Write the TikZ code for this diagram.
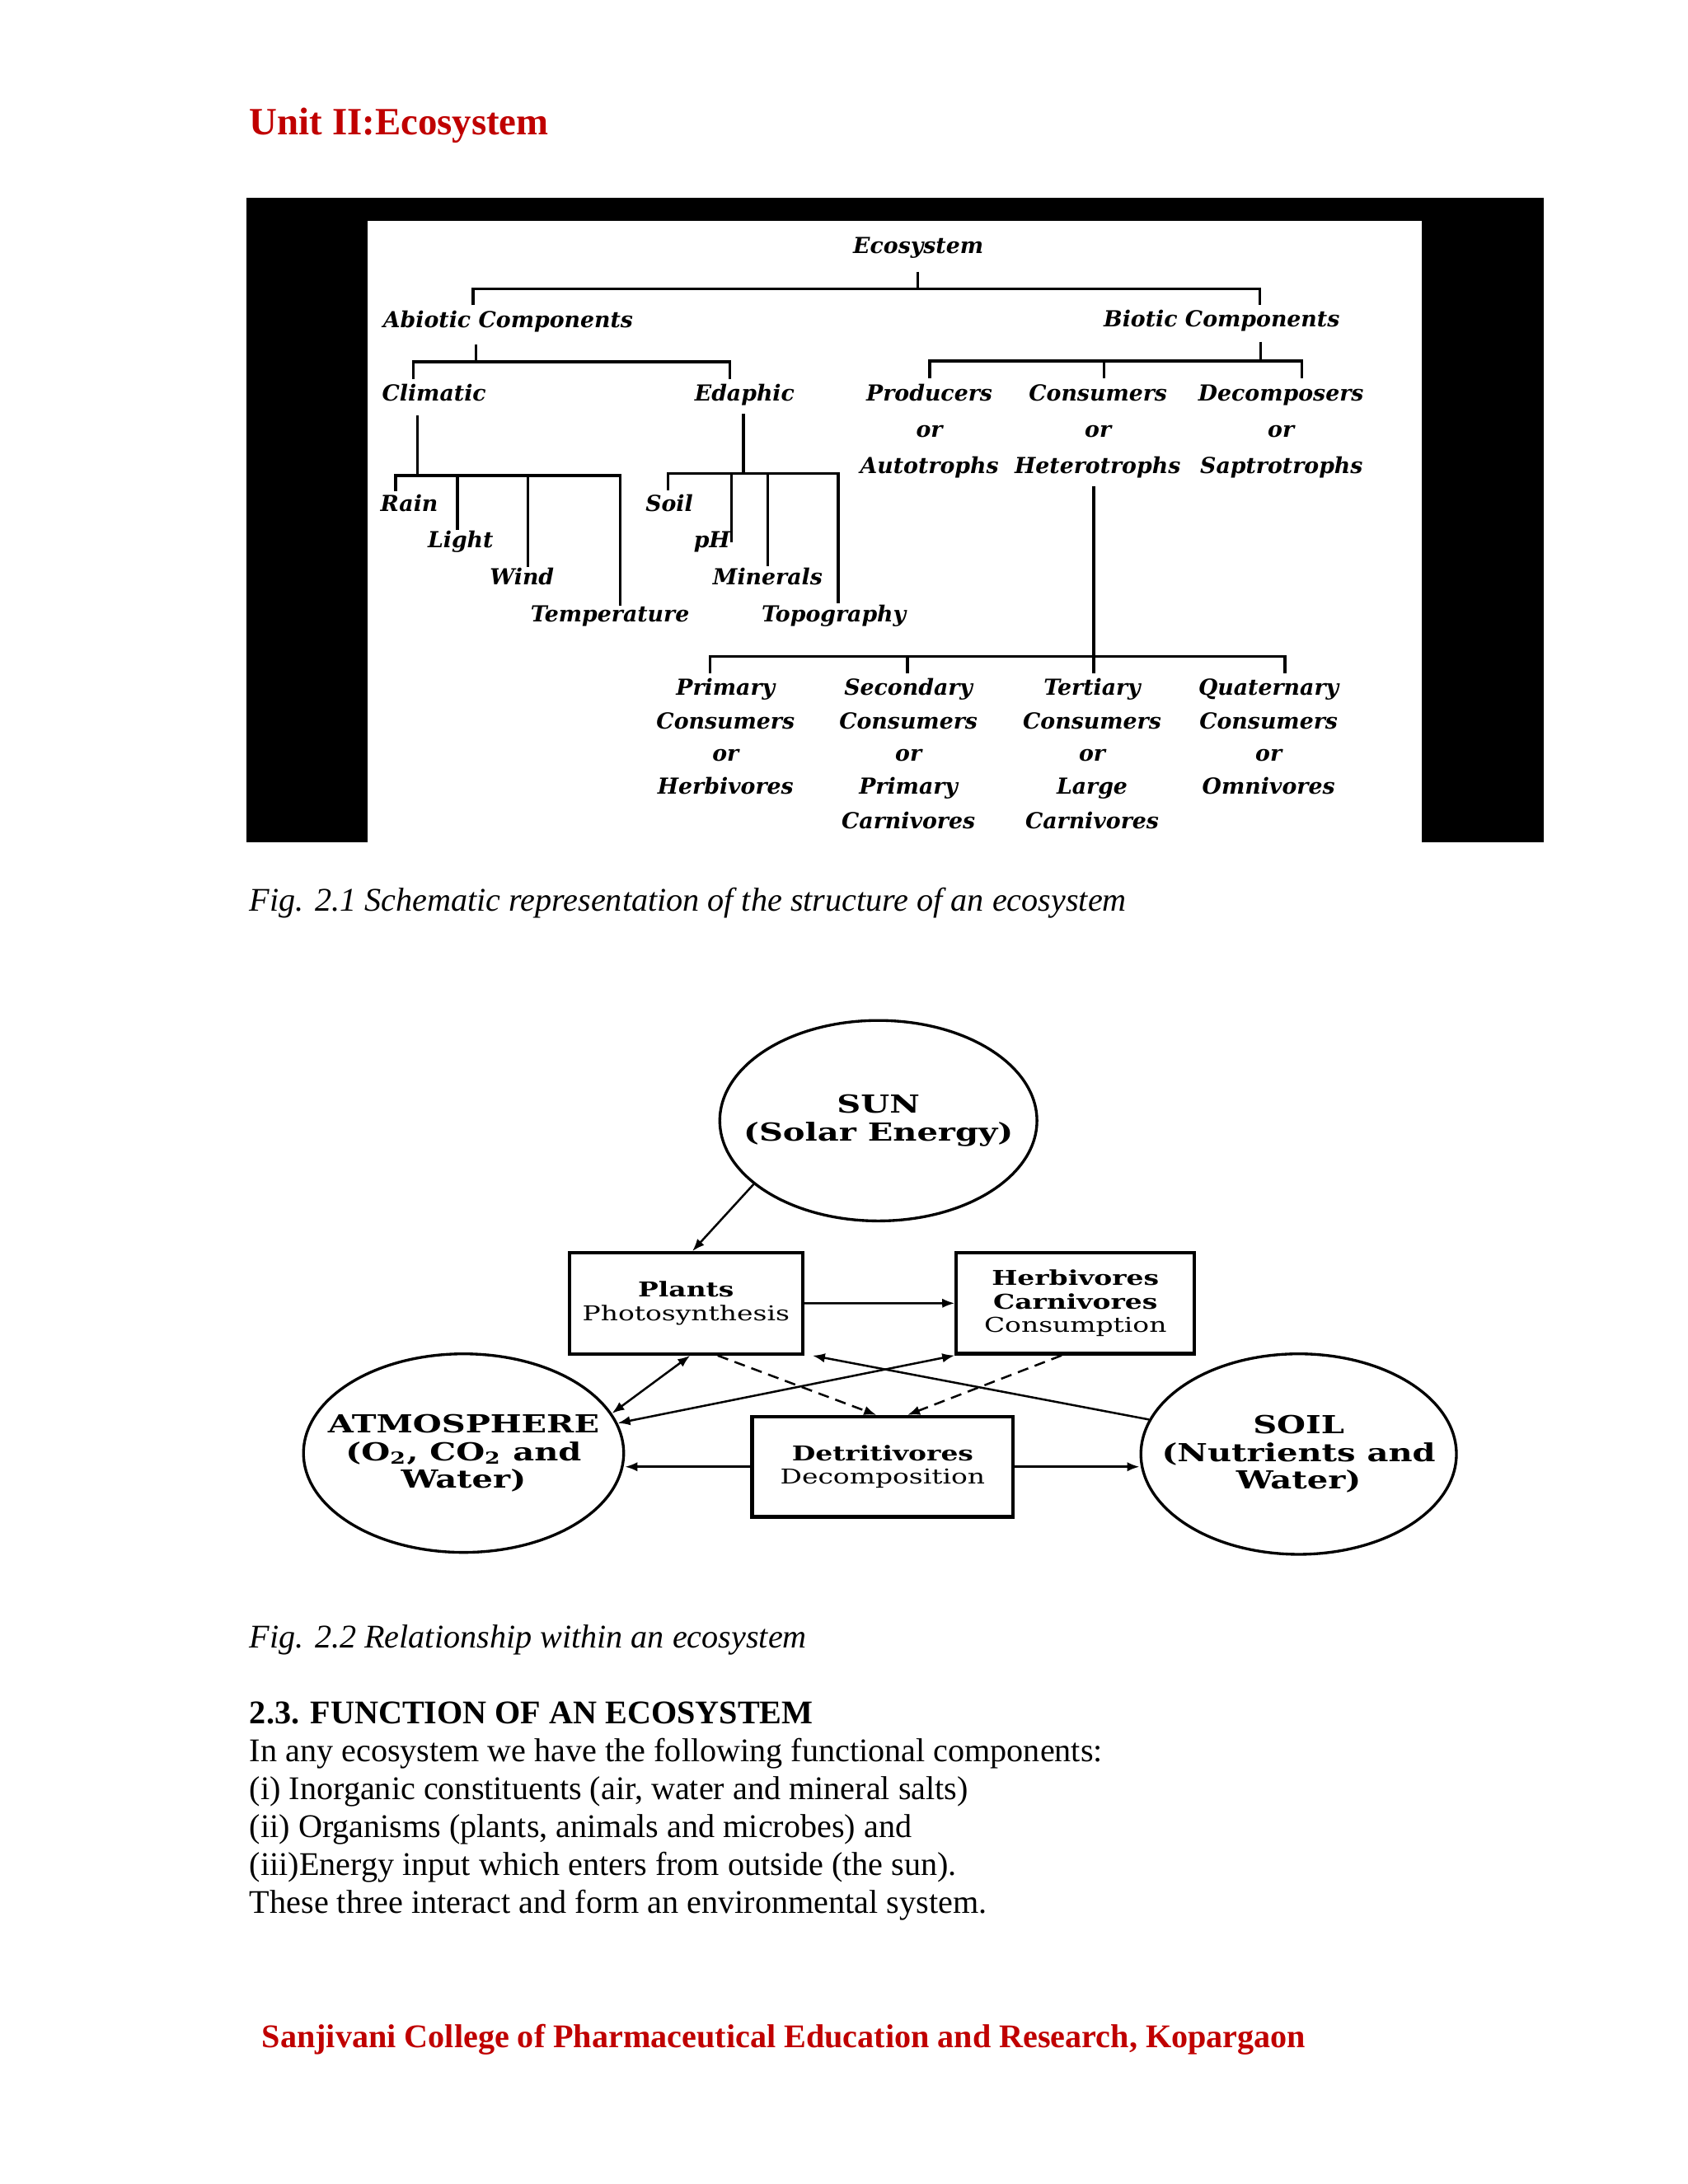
\documentclass[tikz,border=0pt]{standalone}
\usepackage{fontspec}
\setmainfont{Liberation Serif}
\newfontfamily\treefont{DejaVu Serif}
\newfontfamily\boxfont[FakeStretch=1.33]{DejaVu Serif}
\usetikzlibrary{shapes.geometric,arrows.meta,calc}
\definecolor{unitred}{RGB}{192,0,0}
\tikzset{
  tl/.style={anchor=base, inner sep=0pt, font={\fontsize{8}{10}\selectfont\treefont\bfseries\itshape}},
  tline/.style={line width=1pt},
  body/.style={anchor=base west, inner sep=0pt, font={\fontsize{12}{14}\selectfont}},
  ellshape/.style={draw, ellipse, line width=1pt, inner sep=0pt},
  elltext/.style={inner sep=0pt, align=center,
              font={\fontsize{9}{10}\selectfont\boxfont\bfseries}},
  boxn/.style={draw, rectangle, line width=1.25pt, inner sep=0pt, align=center,
              font={\fontsize{7.4}{8.5}\selectfont\boxfont}},
  arr/.style={line width=0.75pt, -{Latex[length=4.5pt,width=3.4pt]}},
  darr/.style={line width=0.75pt, {Latex[length=4.5pt,width=3.4pt]}-{Latex[length=4.5pt,width=3.4pt]}},
  dasharr/.style={arr, dash pattern=on 4pt off 2.5pt}
}
\begin{document}
\begin{tikzpicture}[x=0.5pt,y=-0.5pt]
\useasboundingbox (0,0) rectangle (1224,1584);
\fill[white] (0,0) rectangle (1224,1584);

% ---------- title ----------
\node[body, font={\fontsize{14}{16}\selectfont\bfseries}, text=unitred] (title) at (180.6,98) {Unit II:Ecosystem};

% ---------- figure 2.1 frame ----------
\fill[black] (179,143.4) rectangle (1119.6,611);
\fill[white] (266.5,160) rectangle (1031,611);

% tree nodes
\node[tl] (eco) at (666,184) {Ecosystem};
\node[tl] (abio) at (368.5,237.5) {Abiotic Components};
\node[tl] (bio) at (886,237) {Biotic Components};
\node[tl] (clim) at (314.8,291) {Climatic};
\node[tl] (edaph) at (540,291) {Edaphic};
\node[tl] (prodA) at (674,291) {Producers};
\node[tl] (prodB) at (674,317) {or};
\node[tl] (prodC) at (674,343.3) {Autotrophs};
\node[tl] (consA) at (796.3,291) {Consumers};
\node[tl] (consB) at (796.3,317) {or};
\node[tl] (consC) at (796,343.3) {Heterotrophs};
\node[tl] (decoA) at (929,291) {Decomposers};
\node[tl] (decoB) at (929,317) {or};
\node[tl] (decoC) at (929.4,343.3) {Saptrotrophs};
\node[tl] (rain) at (296.8,370.7) {Rain};
\node[tl] (light) at (334,397.3) {Light};
\node[tl] (wind) at (378.5,424) {Wind};
\node[tl] (temp) at (442.4,451) {Temperature};
\node[tl] (soilE) at (485.4,370.7) {Soil};
\node[tl] (ph) at (516.3,397.3) {pH};
\node[tl] (miner) at (556.7,424) {Minerals};
\node[tl] (topo) at (604.7,451) {Topography};
\node[tl] (priA) at (526.2,504.3) {Primary};
\node[tl] (priB) at (526.2,528.7) {Consumers};
\node[tl] (priC) at (526.2,552.2) {or};
\node[tl] (priD) at (526.2,576) {Herbivores};
\node[tl] (secA) at (658.8,504.3) {Secondary};
\node[tl] (secB) at (658.8,528.7) {Consumers};
\node[tl] (secC) at (658.8,552.2) {or};
\node[tl] (secD) at (658.8,576) {Primary};
\node[tl] (secE) at (658.8,601) {Carnivores};
\node[tl] (terA) at (792,504.3) {Tertiary};
\node[tl] (terB) at (792,528.7) {Consumers};
\node[tl] (terC) at (792,552.2) {or};
\node[tl] (terD) at (792,576) {Large};
\node[tl] (terE) at (792,601) {Carnivores};
\node[tl] (quaA) at (920,504.3) {Quaternary};
\node[tl] (quaB) at (920,528.7) {Consumers};
\node[tl] (quaC) at (920,552.2) {or};
\node[tl] (quaD) at (920,576) {Omnivores};

% tree lines
\draw[tline] (665.6,197) -- (665.6,209.5);
\draw[tline] (343.1,221.4) |- (913.5,209.5) -- (913.5,221.4);
\draw[tline] (345,249.7) -- (345,262.5);
\draw[tline] (299.8,274.7) |- (529.4,262.5) -- (529.4,274.7);
\draw[tline] (914.1,247.9) -- (914.1,261.9);
\draw[tline] (674.2,274.1) |- (944,261.9) -- (944,274.1);
\draw[tline] (800.7,261.9) -- (800.7,274.1);
\draw[tline] (302.9,301.2) -- (302.9,344.8);
\draw[tline] (287,356.4) |- (449.8,344.8) -- (449.8,439.4);
\draw[tline] (331.8,344.8) -- (331.8,384.5);
\draw[tline] (382.8,344.8) -- (382.8,411.3);
\draw[tline] (539.2,300) -- (539.2,343.3);
\draw[tline] (484.3,355.5) |- (607.8,343.3) -- (607.8,437.8);
\draw[tline] (530.6,343.3) -- (530.6,393.6);
\draw[tline] (556.9,343.3) -- (556.9,410.4);
\draw[tline] (793.1,352.5) -- (793.1,488.1);
\draw[tline] (514.8,488.1) |- (931.8,475.9) -- (931.8,488.1);
\draw[tline] (658,475.9) -- (658,488.1);

\node[body, font={\fontsize{12}{14}\selectfont\itshape}] (cap1) at (180.7,660.6) {Fig. 2.1 Schematic representation of the structure of an ecosystem};

% ---------- figure 2.2 ----------
\node[ellshape, minimum width=115pt, minimum height=72.7pt] (sun) at (637,812.8) {};
\node[elltext] (sunT) at (sun.center) {SUN\\(Solar Energy)};
\node[ellshape, minimum width=116.1pt, minimum height=72pt] (atm) at (336.2,1053.9) {};
\node[elltext] (atmT) at (atm.center) {ATMOSPHERE\\(O\textsubscript{2}, CO\textsubscript{2} and\\Water)};
\node[ellshape, minimum width=114.4pt, minimum height=72.7pt] (soil) at (941.8,1054.6) {};
\node[elltext] (soilT) at (soil.center) {SOIL\\(Nutrients and\\Water)};
\node[boxn, minimum width=84.5pt, minimum height=36.6pt] (plants) at (497.5,945.3) {\textbf{Plants}\\Photosynthesis};
\node[boxn, minimum width=86.3pt, minimum height=36.6pt] (herb) at (779.9,945.2) {\textbf{Herbivores}\\\textbf{Carnivores}\\Consumption};
\node[boxn, minimum width=94.7pt, minimum height=36.3pt] (det) at (640.1,1063.8) {\textbf{Detritivores}\\Decomposition};

\draw[arr] (sun.207) -- ($(plants.north)+(4.6,0)$);
\draw[arr] (plants.east) -- (herb.west);
\draw[darr] ($(plants.south)+(3,0)$) -- (atm.15);
\draw[darr] (herb.south west) -- (atm.11);
\draw[arr] (soil.167) -- ($(plants.south east)+(6,0)$);
\draw[dasharr] ($(plants.south)+(23,0)$) -- ($(det.north)+(-4.5,0)$);
\draw[dasharr] ($(herb.south)+(-10,0)$) -- ($(det.north)+(18,0)$);
\draw[arr] (det.west) -- (det.west -| atm.east);
\draw[arr] (det.east) -- (det.east -| soil.west);

\node[body, font={\fontsize{12}{14}\selectfont\itshape}] (cap2) at (180.7,1195) {Fig. 2.2 Relationship within an ecosystem};

% ---------- text ----------
\node[body, font={\fontsize{12}{14}\selectfont\bfseries}] (head) at (180.7,1250) {2.3. FUNCTION OF AN ECOSYSTEM};
\node[body] (l1) at (180.7,1277.5) {In any ecosystem we have the following functional components:};
\node[body] (l2) at (180.7,1305) {(i) Inorganic constituents (air, water and mineral salts)};
\node[body] (l3) at (180.7,1332.5) {(ii) Organisms (plants, animals and microbes) and};
\node[body] (l4) at (180.7,1360) {(iii)Energy input which enters from outside (the sun).};
\node[body] (l5) at (180.7,1387.5) {These three interact and form an environmental system.};

\node[body, font={\fontsize{12}{14}\selectfont\bfseries}, text=unitred] (foot) at (189.6,1484.8) {Sanjivani College of Pharmaceutical Education and Research, Kopargaon};
\end{tikzpicture}
\end{document}
